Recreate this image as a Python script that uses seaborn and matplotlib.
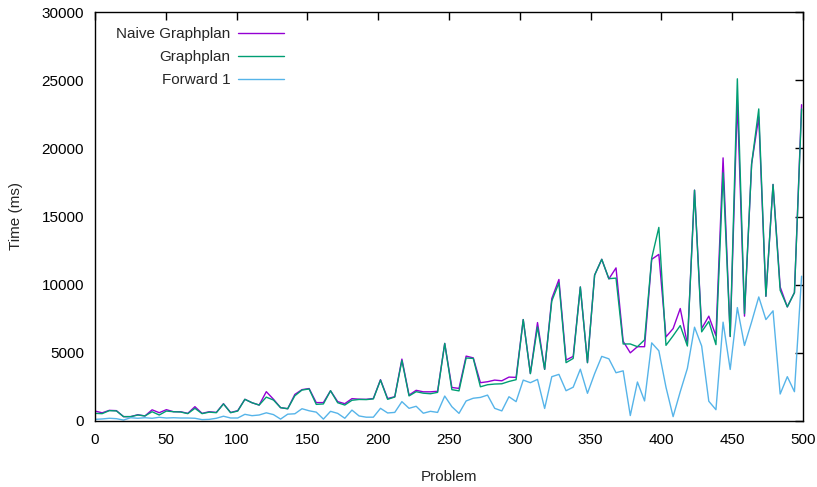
import matplotlib
matplotlib.use("Agg")
import matplotlib.pyplot as plt
import seaborn as sns
import pandas as pd
import numpy as np

# problem index (100 problems sampled over 0..499)
problems = np.linspace(0, 499, 100)

naive_graphplan = [
    730, 600, 780, 760, 320, 320, 460, 370, 820, 610,
    830, 680, 680, 560, 1050, 560, 680, 630, 1270, 620,
    760, 1590, 1340, 1170, 2150, 1600, 980, 900, 1950, 2300,
    2380, 1350, 1350, 2220, 1420, 1270, 1640, 1600, 1590, 1650,
    3030, 1650, 1780, 4540, 1900, 2250, 2140, 2140, 2180, 5690,
    2460, 2390, 4760, 4630, 2810, 2880, 3000, 2950, 3220, 3200,
    7440, 3490, 7220, 3790, 8980, 10380, 4470, 4740, 9830, 4280,
    10700, 11860, 10420, 11230, 5850, 5000, 5450, 5450, 11860, 12220,
    6170, 6780, 8250, 5650, 16930, 6780, 7690, 6250, 19300, 6200,
    23500, 7690, 18860, 22300, 9150, 17350, 9830, 8370, 9420, 23200,
]

graphplan = [
    560, 540, 760, 740, 320, 320, 440, 370, 680, 440,
    730, 680, 660, 540, 930, 540, 650, 610, 1250, 610,
    730, 1590, 1340, 1170, 1750, 1540, 980, 900, 1850, 2270,
    2350, 1220, 1250, 2220, 1340, 1170, 1520, 1580, 1570, 1620,
    3000, 1590, 1760, 4440, 1840, 2150, 2040, 2000, 2100, 5690,
    2300, 2210, 4620, 4590, 2510, 2660, 2710, 2730, 2900, 3030,
    7440, 3470, 6900, 3790, 8800, 10130, 4280, 4590, 9830, 4280,
    10700, 11860, 10440, 10480, 5650, 5650, 5450, 5950, 11950, 14200,
    5550, 6250, 7000, 5500, 16930, 6540, 7300, 5600, 18200, 6200,
    25100, 7880, 18860, 22890, 9150, 17350, 9590, 8370, 9420, 22890,
]

forward_1 = [
    120, 150, 200, 170, 70, 240, 200, 240, 200, 270,
    220, 240, 220, 220, 200, 100, 120, 200, 350, 220,
    220, 490, 390, 440, 600, 470, 140, 500, 530, 900,
    750, 650, 140, 710, 560, 200, 800, 370, 280, 280,
    930, 590, 630, 1420, 930, 1080, 570, 710, 630, 1830,
    1050, 560, 1470, 1670, 1730, 1900, 930, 740, 1780, 1420,
    3000, 2810, 3050, 920, 3250, 3420, 2220, 2480, 3800, 2030,
    3470, 4740, 4560, 3540, 3680, 400, 2860, 1470, 5730, 5150,
    2480, 320, 2150, 3860, 6880, 5500, 1450, 830, 7250, 3780,
    8320, 5540, 7270, 9100, 7440, 8080, 1980, 3250, 2150, 10620,
]

series_names = ["Naive Graphplan", "Graphplan", "Forward 1"]
colors = ["#9400D3", "#009E73", "#56B4E9"]

df = pd.DataFrame({
    "Problem": np.tile(problems, 3),
    "Time": naive_graphplan + graphplan + forward_1,
    "Planner": np.repeat(series_names, len(problems)),
})

sns.set_theme(style="white")
plt.rcParams["font.family"] = ["Liberation Sans", "DejaVu Sans"]

fig = plt.figure(figsize=(8.17, 4.87), dpi=100)
ax = fig.add_axes([95 / 817, 1 - 421 / 487, 708 / 817, 409 / 487])

sns.lineplot(data=df, x="Problem", y="Time", hue="Planner",
             hue_order=series_names, palette=colors, linewidth=1.0,
             ax=ax, legend=False)

ax.set_xlim(0, 500)
ax.set_ylim(0, 30000)
ax.set_xticks(np.arange(0, 501, 50))
ax.set_yticks(np.arange(0, 30001, 5000))
ax.tick_params(direction="in", length=6, width=1, top=True, right=True,
               labelsize=11, colors="black")
ax.tick_params(axis="x", pad=9)
ax.tick_params(axis="y", pad=8)
for s in ax.spines.values():
    s.set_color("black")
    s.set_linewidth(1)

ax.set_xlabel("Problem", fontsize=11, labelpad=16)
ax.set_ylabel("Time (ms)", fontsize=11, labelpad=13)

handles = [plt.Line2D([], [], color=c, lw=1.0) for c in colors]
ax.legend(handles, series_names, loc="upper left",
          bbox_to_anchor=(0.03, 0.963), frameon=False, markerfirst=False,
          fontsize=11, handlelength=3.0, handletextpad=0.5,
          labelspacing=0.6, borderpad=0, borderaxespad=0)

fig.savefig("out.png", dpi=100)
